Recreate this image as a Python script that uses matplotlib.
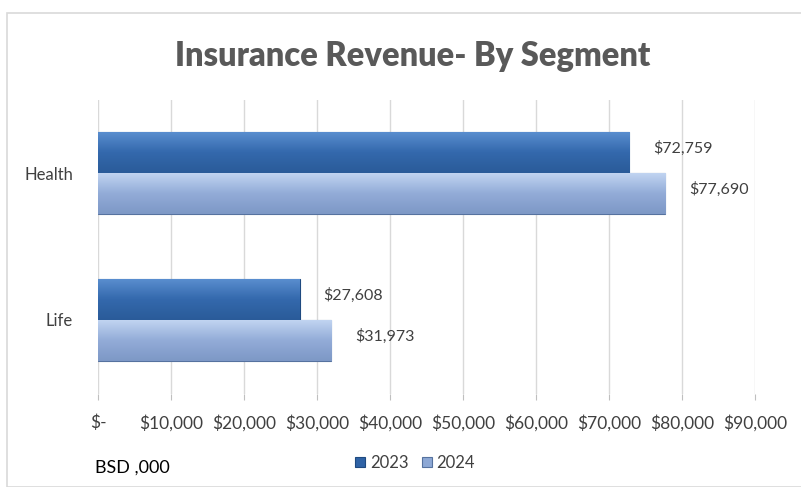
import matplotlib
matplotlib.use('agg')
import matplotlib.pyplot as plt
from matplotlib.patches import Rectangle
from matplotlib.colors import LinearSegmentedColormap
from matplotlib.ticker import FuncFormatter
import numpy as np

segments = ['Health', 'Life']
years = ['2023', '2024']
rev_2023 = [72759, 27608]
rev_2024 = [77690, 31973]
x_ticks = [0, 10000, 20000, 30000, 40000, 50000, 60000, 70000, 80000, 90000]

col_2023 = '#2f63a6'
col_2024 = '#8da8d5'
txt = '#404040'

plt.rcParams['font.family'] = ['Lato', 'DejaVu Sans']

fig = plt.figure(figsize=(8.01, 4.87), dpi=100)
# chart frame
fig.patches.append(Rectangle((7 / 801, 0), 1, 1 - 13 / 487, transform=fig.transFigure,
                             fill=False, edgecolor='#d9d9d9', linewidth=1.2))

ax = fig.add_axes([98 / 801, 1 - 393.5 / 487, 657 / 801, 294 / 487])

y = np.arange(len(segments)) + 0.5
h = 0.28
b1 = ax.barh(y - h / 2, rev_2023, height=h, color=col_2023, edgecolor='#1f4a80', linewidth=0.8, label=years[0])
b2 = ax.barh(y + h / 2, rev_2024, height=h, color=col_2024, edgecolor='#56729f', linewidth=0.8, label=years[1])

# glossy vertical gradient on each bar
grad_2023 = LinearSegmentedColormap.from_list('g23', ['#5b8fd0', '#3469ad', '#2a5b99'])
grad_2024 = LinearSegmentedColormap.from_list('g24', ['#c3d6f2', '#93acd8', '#7d98c6'])
for bars, cm in [(b1, grad_2023), (b2, grad_2024)]:
    for bar in bars:
        x0, y0 = bar.get_x(), bar.get_y()
        w, hh = bar.get_width(), bar.get_height()
        im = ax.imshow(np.linspace(0, 1, 64).reshape(-1, 1), cmap=cm, aspect='auto',
                       extent=(x0, x0 + w, y0, y0 + hh), origin='lower', zorder=bar.get_zorder())
        im.set_clip_path(bar)

for bars, vals in [(b1, rev_2023), (b2, rev_2024)]:
    for bar, v in zip(bars, vals):
        ax.text(v + 3300, bar.get_y() + bar.get_height() / 2 - 0.03, '${:,}'.format(v),
                va='center', ha='left', fontsize=11.5, color=txt)

ax.set_xlim(0, 90000)
ax.set_ylim(2, 0)
ax.set_xticks(x_ticks)
ax.xaxis.set_major_formatter(FuncFormatter(lambda v, p: '$-' if v == 0 else '${:,.0f}'.format(v)))
ax.set_yticks(y)
ax.set_yticklabels(segments)
ax.tick_params(axis='x', length=4, color='#bfbfbf', labelsize=12.5, labelcolor=txt, pad=11)
ax.tick_params(axis='y', length=0, labelsize=12, labelcolor=txt, pad=18)
ax.grid(axis='x', color='#d9d9d9', linewidth=1)
ax.set_axisbelow(True)
for s in ax.spines.values():
    s.set_visible(False)

fig.text(0.515, 1 - 56 / 487, 'Insurance Revenue- By Segment', ha='center', va='center',
         fontsize=23.5, fontweight='heavy', color='#595959')
fig.text(95 / 801, 1 - 468 / 487, 'BSD ,000', ha='left', va='center', fontsize=13, color='#000000')

ax.legend(loc='center', bbox_to_anchor=(415 / 801, 1 - 463 / 487), bbox_transform=fig.transFigure,
          ncol=2, frameon=False, fontsize=12, handlelength=0.6, handleheight=0.6,
          handletextpad=0.3, columnspacing=0.8, labelcolor=txt)

plt.savefig('out.png', dpi=100)
